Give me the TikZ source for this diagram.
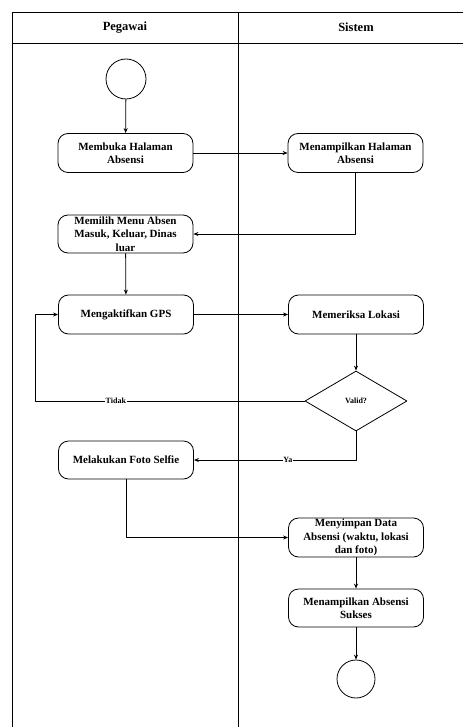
\documentclass[tikz,border=0pt]{standalone}
\usepackage{fontspec}
\setmainfont{Liberation Serif}
\usetikzlibrary{shapes.geometric,arrows.meta}
\begin{document}
\begin{tikzpicture}[x=1pt,y=-1pt,>={Stealth[length=5pt,width=4pt]}, line join=round,
	act/.style={draw, thick, rounded corners=10pt, minimum width=135pt, minimum height=39pt, inner sep=0pt, align=center, font=\fontsize{11}{13.5}\selectfont\bfseries},
	term/.style={draw, thick, circle, minimum size=40pt, inner sep=0pt},
	cabang/.style={draw, thick, diamond, minimum width=102pt, minimum height=60pt, inner sep=0pt, font=\fontsize{8}{9}\selectfont\bfseries},
	lbl/.style={fill=white, inner sep=0.5pt, font=\fontsize{8}{9}\selectfont\bfseries},
	alur/.style={->, thick}]
	\useasboundingbox (0,0) rectangle (463,727);
	% swimlane
	\draw[thick] (12,727)--(12,12)--(463,12);
	\draw[thick] (12,43)--(463,43);
	\draw[thick] (238,12)--(238,727);
	\node[font=\fontsize{12.5}{14}\selectfont\bfseries] (hpeg) at (125,27.5) {Pegawai};
	\node[font=\fontsize{12.5}{14}\selectfont\bfseries] (hsis) at (356,27.5) {Sistem};
	% aktivitas
	\node[term] (mulai) at (126,79) {};
	\node[act] (membuka) at (125.5,153) {Membuka Halaman\\Absensi};
	\node[act] (tampilhal) at (355.5,153) {Menampilkan Halaman\\Absensi};
	\node[act, minimum height=38pt] (memilih) at (125.5,234) {Memilih Menu Absen\\Masuk, Keluar, Dinas\\luar};
	\node[act] (gps) at (126,314.5) {Mengaktifkan GPS};
	\node[act] (periksa) at (356,314.5) {Memeriksa Lokasi};
	\node[cabang] (valid) at (356,401) {Valid?};
	\node[act, minimum height=38pt] (selfie) at (126,460) {Melakukan Foto Selfie};
	\node[act] (simpan) at (356,537.5) {Menyimpan Data\\Absensi (waktu, lokasi\\dan foto)};
	\node[act, minimum height=38pt] (sukses) at (356,608) {Menampilkan Absensi\\Sukses};
	\node[term, minimum size=38pt] (selesai) at (356,679) {};
	\coordinate (balik) at (35,401);
	% alur
	\draw[alur] (mulai)--(membuka);
	\draw[alur] (membuka)--(tampilhal);
	\draw[alur] (tampilhal.south) |- (memilih.east);
	\draw[alur] (memilih)--(gps);
	\draw[alur] (gps)--(periksa);
	\draw[alur] (periksa)--(valid);
	\draw[alur] (valid.west)--node[lbl, pos=0.7]{Tidak}(balik) |- (gps.west);
	\draw[alur] (valid.south) |- node[lbl, pos=0.71]{Ya}(selfie.east);
	\draw[alur] (selfie.south) |- (simpan.west);
	\draw[alur] (simpan)--(sukses);
	\draw[alur] (sukses)--(selesai);
\end{tikzpicture}
\end{document}
